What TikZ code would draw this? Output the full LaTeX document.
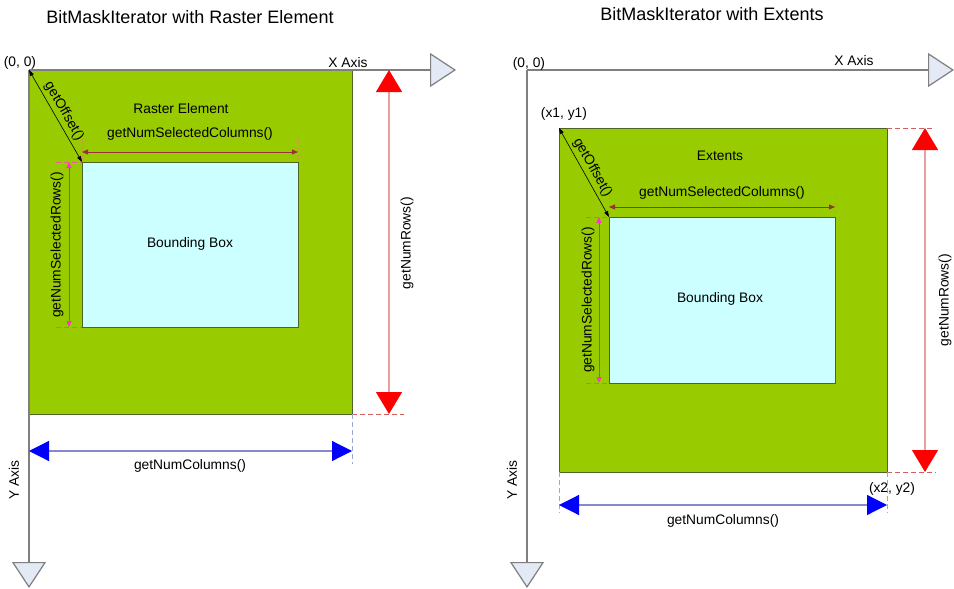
\documentclass[tikz,border=0pt]{standalone}
\usepackage{fontspec}
\setmainfont{Liberation Sans}
\usetikzlibrary{arrows.meta}
\definecolor{grn}{HTML}{99CC00}
\definecolor{grnb}{HTML}{4F6228}
\definecolor{cyn}{HTML}{CCFFFF}
\definecolor{axf}{HTML}{E3EAF6}
\definecolor{axl}{HTML}{7F7F7F}
\definecolor{redl}{HTML}{E8A0A0}
\definecolor{redd}{HTML}{D06060}
\definecolor{bluel}{HTML}{8888CC}
\definecolor{blued}{HTML}{99AACC}
\definecolor{colc}{HTML}{993333}
\definecolor{cold}{HTML}{CC9944}
\definecolor{rowc}{HTML}{996633}
\definecolor{rowh}{HTML}{FF33CC}
\definecolor{rowd}{HTML}{DD6688}
\tikzset{
  lbl/.style={font=\fontsize{13.8}{16}\selectfont, inner sep=0pt},
  ttl/.style={font=\fontsize{18}{21}\selectfont, inner sep=0pt},
  areabox/.style={draw=grnb, fill=grn, line width=0.9pt, anchor=north west, inner sep=0pt, outer sep=0pt},
  bbox/.style={draw=grnb, fill=cyn, line width=0.9pt, anchor=north west, inner sep=0pt, outer sep=0pt},
  axisline/.style={draw=axl, line width=1.2pt},
  axtip/.style={-{Triangle[width=34pt,length=26pt,fill=axf]}},
  offarrow/.style={black, line width=0.6pt, {Triangle[width=4pt,length=6pt]}-{Triangle[width=4pt,length=6pt]}},
  colarrow/.style={colc, line width=0.9pt, {Triangle[width=5pt,length=6pt]}-{Triangle[width=5pt,length=6pt]}},
  ldash/.style={dash pattern=on 5pt off 3pt},
  coldash/.style={cold, ldash, line width=0.7pt},
  rowarrow/.style={rowc, line width=0.9pt, {Triangle[width=5pt,length=6pt,color=rowh]}-{Triangle[width=5pt,length=6pt,color=rowh]}},
  rowdash/.style={rowd, ldash, line width=0.7pt},
  nrarrow/.style={draw=redl, line width=1.2pt, {Triangle[width=26pt,length=22pt,color=red]}-{Triangle[width=26pt,length=22pt,color=red]}},
  nrdash/.style={redd, ldash, line width=0.8pt},
  ncarrow/.style={draw=bluel, line width=1.2pt, {Triangle[width=20pt,length=20pt,color=blue]}-{Triangle[width=20pt,length=20pt,color=blue]}},
  ncdash/.style={blued, ldash, line width=0.8pt},
}
\begin{document}
\begin{tikzpicture}[x=1pt,y=-1pt]
\useasboundingbox (0,0) rectangle (954,589);
% ================= LEFT =================
\node[ttl] (t1) at (190,17) {BitMaskIterator with Raster Element};
\coordinate (LO) at (29,70);
\coordinate (LXe) at (456,70);
\coordinate (LYe) at (29,588);
\node[areabox, minimum width=323pt, minimum height=344pt] (LR) at (29,70) {};
\draw[axisline, axtip] (LO) -- (LXe);
\draw[axisline, axtip] (LO) -- (LYe);
\node[lbl] (l00) at (20,63) {(0, 0)};
\node[lbl] (lxa) at (348,63) {X Axis};
\node[lbl, rotate=90] (lya) at (14,480) {Y Axis};
\node[lbl] (lre) at (181,109) {Raster Element};
\node[bbox, minimum width=216pt, minimum height=165pt] (LB) at (82,162) {};
\node[lbl] (lbb) at (190,244) {Bounding Box};
% getOffset
\draw[offarrow] (LR.north west) -- node[lbl, sloped, above=3pt] {getOffset()} (LB.north west);
% selected columns
\coordinate (LC1) at (82,152);
\coordinate (LC2) at (298,152);
\coordinate (LC1t) at (82,139);
\coordinate (LC2t) at (298,139);
\draw[coldash] (LC1t) -- (LB.north west);
\draw[coldash] (LC2t) -- (LB.north east);
\draw[colarrow] (LC1) -- (LC2);
\node[lbl] (lsc) at (190,134) {getNumSelectedColumns()};
% selected rows
\coordinate (LR1) at (69,162);
\coordinate (LR2) at (69,327);
\coordinate (LR1l) at (56,162);
\coordinate (LR2l) at (56,327);
\draw[rowdash] (LR1l) -- (LB.north west);
\draw[rowdash] (LR2l) -- (LB.south west);
\draw[rowarrow] (LR1) -- (LR2);
\node[lbl, rotate=90] (lsr) at (57,245) {getNumSelectedRows()};
% num rows
\coordinate (LN1) at (389,70);
\coordinate (LN2) at (389,414);
\coordinate (LN2r) at (404,414);
\draw[nrdash] (LR.south east) -- (LN2r);
\draw[nrarrow] (LN1) -- (LN2);
\node[lbl, rotate=90] (lnr) at (407,243) {getNumRows()};
% num columns
\coordinate (LM1) at (29,451);
\coordinate (LM2) at (352,451);
\coordinate (LM2b) at (352,464);
\draw[ncdash] (LR.south east) -- (LM2b);
\draw[ncarrow] (LM1) -- (LM2);
\node[lbl] (lnc) at (190,466) {getNumColumns()};
% ================= RIGHT =================
\node[ttl] (t2) at (712,14) {BitMaskIterator with Extents};
\coordinate (RO) at (527,70);
\coordinate (RXe) at (954,70);
\coordinate (RYe) at (527,588);
\draw[axisline, axtip] (RO) -- (RXe);
\draw[axisline, axtip] (RO) -- (RYe);
\node[lbl] (r00) at (529,64) {(0, 0)};
\node[lbl] (rxa) at (854,61) {X Axis};
\node[lbl, rotate=90] (rya) at (512,480) {Y Axis};
\node[areabox, minimum width=328pt, minimum height=344pt] (RR) at (559,128) {};
\node[lbl] (rx1) at (564,114) {(x1, y1)};
\node[lbl] (rext) at (720,156) {Extents};
\node[bbox, minimum width=226pt, minimum height=166pt] (RB) at (609,217) {};
\node[lbl] (rbb) at (720,299) {Bounding Box};
\draw[offarrow] (RR.north west) -- node[lbl, sloped, above=3pt] {getOffset()} (RB.north west);
% selected columns
\coordinate (RC1) at (609,207);
\coordinate (RC2) at (835,207);
\coordinate (RC1t) at (609,194);
\coordinate (RC2t) at (835,194);
\draw[coldash] (RC1t) -- (RB.north west);
\draw[coldash] (RC2t) -- (RB.north east);
\draw[colarrow] (RC1) -- (RC2);
\node[lbl] (rsc) at (722,193) {getNumSelectedColumns()};
% selected rows
\coordinate (RR1) at (599,217);
\coordinate (RR2) at (599,383);
\coordinate (RR1l) at (586,217);
\coordinate (RR2l) at (586,383);
\draw[rowdash] (RR1l) -- (RB.north west);
\draw[rowdash] (RR2l) -- (RB.south west);
\draw[rowarrow] (RR1) -- (RR2);
\node[lbl, rotate=90] (rsr) at (588,300) {getNumSelectedRows()};
% num rows
\coordinate (RN1) at (925,128);
\coordinate (RN2) at (925,472);
\coordinate (RN1r) at (933,128);
\coordinate (RN2r) at (936,472);
\draw[nrdash] (RR.north east) -- (RN1r);
\draw[nrdash] (RR.south east) -- (RN2r);
\draw[nrarrow] (RN1) -- (RN2);
\node[lbl, rotate=90] (rnr) at (945,300) {getNumRows()};
% num columns
\coordinate (RM1) at (559,505);
\coordinate (RM2) at (887,505);
\coordinate (RM1b) at (559,513);
\coordinate (RM2b) at (887,513);
\draw[ncdash] (RR.south west) -- (RM1b);
\draw[ncdash] (RR.south east) -- (RM2b);
\draw[ncarrow] (RM1) -- (RM2);
\node[lbl] (rnc) at (723,521) {getNumColumns()};
\node[lbl] (rx2) at (892,489) {(x2, y2)};
\end{tikzpicture}
\end{document}
